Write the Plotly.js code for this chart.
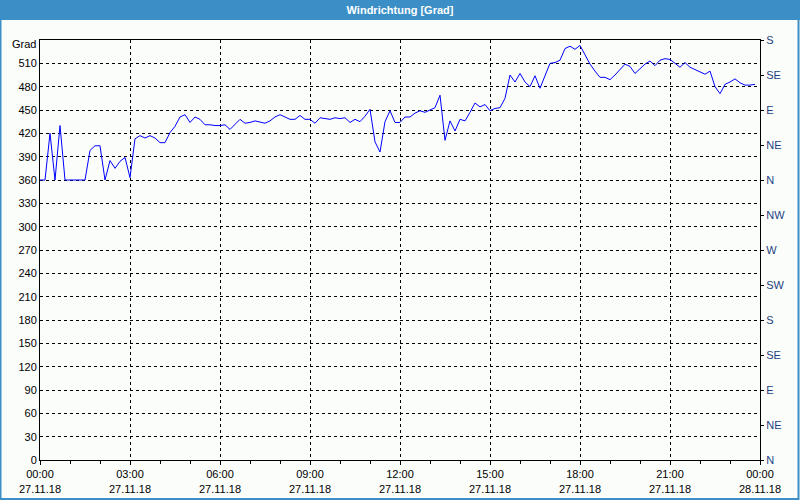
<!DOCTYPE html>
<html>
<head>
<meta charset="utf-8">
<script src="https://cdn.plot.ly/plotly-3.0.1.min.js"></script>
<style>
html,body{margin:0;padding:0;background:#fbfdfb;}
#chart{width:800px;height:500px;}
</style>
</head>
<body>
<div id="chart"></div>
<script>
// Wind direction every 10 minutes from 27.11.18 00:00 to 23:50
const startTime = '2018-11-27T00:00:00';
const stepMinutes = 10;
const direction = [
  360, 360, 420, 360, 430, 360, 360, 360, 360, 360,
  398, 404, 404, 360, 385, 375, 384, 389, 363, 413,
  417, 414, 417, 414, 408, 408, 421, 429, 441, 444,
  434, 441, 438, 431, 431, 430, 430, 431, 425, 432,
  438, 433, 434, 436, 434, 433, 436, 441, 444, 441,
  438, 438, 443, 438, 438, 433, 440, 439, 438, 440,
  439, 440, 434, 438, 435, 442, 451, 409, 396, 435,
  449, 434, 434, 441, 441, 446, 449, 447, 450, 453,
  469, 411, 436, 423, 438, 436, 447, 459, 454, 457,
  449, 452, 453, 465, 495, 486, 497, 486, 480, 494,
  478, 494, 510, 511, 514, 529, 532, 528, 533, 521,
  509, 500, 492, 492, 489, 495, 502, 509, 506, 497,
  503, 509, 513, 507, 514, 516, 515, 510, 505, 511,
  505, 502, 499, 496, 500, 480, 471, 483, 486, 490,
  485, 482, 482, 483
];
const xTickVals = ['2018-11-27 00:00','2018-11-27 03:00','2018-11-27 06:00','2018-11-27 09:00','2018-11-27 12:00','2018-11-27 15:00','2018-11-27 18:00','2018-11-27 21:00','2018-11-28 00:00'];
const xTickText = ['00:00<br>27.11.18','03:00<br>27.11.18','06:00<br>27.11.18','09:00<br>27.11.18','12:00<br>27.11.18','15:00<br>27.11.18','18:00<br>27.11.18','21:00<br>27.11.18','00:00<br>28.11.18'];
const yTickVals = [0,30,60,90,120,150,180,210,240,270,300,330,360,390,420,450,480,510];
const yTickText = ['0','30','60','90','120','150','180','210','240','270','300','330','360','390','420','450','480','510'];
const yUnitLabel = 'Grad';
const yMax = 540;
const compassVals = [0,45,90,135,180,225,270,315,360,405,450,495,540];
const compassText = ['N','NE','E','SE','S','SW','W','NW','N','NE','E','SE','S'];
const titleText = 'Windrichtung [Grad]';

function pad(n){return (n<10?'0':'')+n;}
const t0 = new Date(startTime);
const times = direction.map((v,i)=>{
  const d = new Date(t0.getTime() + i*stepMinutes*60000);
  return d.getFullYear()+'-'+pad(d.getMonth()+1)+'-'+pad(d.getDate())+' '+pad(d.getHours())+':'+pad(d.getMinutes());
});

const FONT = 'Liberation Sans, Arial, sans-serif';
const W = 800, H = 500, L = 40, R = 40, T = 40, B = 40;
const pw = W-L-R, ph = H-T-B;
function px(x){return (x-L)/pw;}
function py(y){return (H-B-y)/ph;}

const trace = {
  x: times, y: direction, type: 'scatter', mode: 'lines',
  line: {color: '#0000ff', width: 1}, hoverinfo: 'skip'
};
const trace2 = {x: [times[0]], y: [null], yaxis: 'y2', type: 'scatter', mode: 'lines', showlegend: false, hoverinfo: 'skip'};

const layout = {
  width: W, height: H,
  margin: {l: L, r: R, t: T, b: B, pad: 0},
  paper_bgcolor: '#fbfdfb', plot_bgcolor: '#fbfdfb',
  showlegend: false,
  font: {family: FONT, size: 11, color: '#000'},
  title: {text: '<b>'+titleText+'</b>', font: {family: FONT, size: 11, color: '#ffffff'},
          x: 0.5, xref: 'container', xanchor: 'center', y: 1-10.5/H, yref: 'container', yanchor: 'middle'},
  xaxis: {
    type: 'date', range: ['2018-11-27 00:00','2018-11-28 00:00'],
    tickmode: 'array', tickvals: xTickVals, ticktext: xTickText,
    showgrid: true, gridcolor: '#000', gridwidth: 1, griddash: '3px,3px',
    showline: true, linecolor: '#000', linewidth: 1, mirror: true,
    ticks: 'outside', ticklen: 4, tickcolor: '#000',
    minor: {dtick: 3600000, ticks: 'outside', ticklen: 3, tickcolor: '#000', showgrid: false},
    zeroline: false, fixedrange: true, tickangle: 0,
    tickfont: {family: FONT, size: 11, color: '#000'}
  },
  yaxis: {
    range: [0, yMax], tickmode: 'array', tickvals: yTickVals, ticktext: yTickText,
    showgrid: true, gridcolor: '#000', gridwidth: 1, griddash: '3px,3px',
    showline: true, linecolor: '#000', linewidth: 1,
    ticks: '', zeroline: false, fixedrange: true,
    tickfont: {family: FONT, size: 11, color: '#000'}
  },
  yaxis2: {
    range: [0, yMax], overlaying: 'y', side: 'right',
    tickmode: 'array', tickvals: compassVals, ticktext: compassText,
    showgrid: false, showline: true, linecolor: '#000', linewidth: 1,
    ticks: 'outside', ticklen: 3, tickcolor: '#000', zeroline: false, fixedrange: true,
    tickfont: {family: FONT, size: 11, color: '#1f3f7f'}
  },
  annotations: [
    {text: yUnitLabel, xref: 'paper', yref: 'y', x: 0, y: yMax, xanchor: 'right', yanchor: 'middle',
     xshift: -2, yshift: -4, showarrow: false, font: {family: FONT, size: 11, color: '#000'}}
  ],
  shapes: [
    {type: 'rect', xref: 'paper', yref: 'paper', x0: px(0), x1: px(800), y0: py(20), y1: py(0),
     fillcolor: '#3c8fc6', line: {width: 0}, layer: 'below'},
    {type: 'rect', xref: 'paper', yref: 'paper', x0: px(0.5), x1: px(798.5), y0: py(499), y1: py(0.5),
     fillcolor: 'rgba(0,0,0,0)', line: {color: '#3c8fc6', width: 2}}
  ]
};

Plotly.newPlot('chart', [trace, trace2], layout, {displayModeBar: false, staticPlot: true});
</script>
</body>
</html>
